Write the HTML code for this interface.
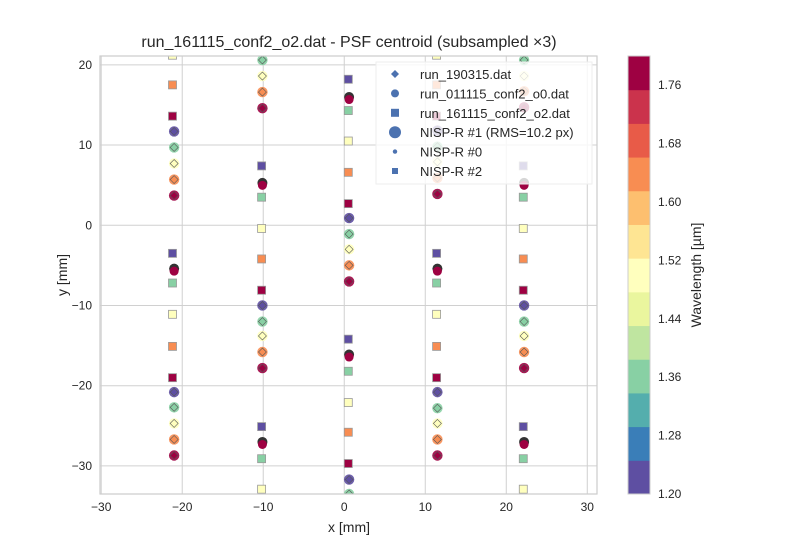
<!DOCTYPE html>
<html><head><meta charset="utf-8"><style>
html,body{margin:0;padding:0;background:#fff}
svg{display:block;font-family:"Liberation Sans","DejaVu Sans",sans-serif}
</style></head><body>
<svg id="chart" width="800" height="550" xmlns="http://www.w3.org/2000/svg">
<rect width="800" height="550" fill="#fff"/>
<g id="grid"></g>
<g id="marks"></g>
<rect x="100" y="56" width="497" height="438" fill="none" stroke="#cccccc" stroke-width="1.2"/>
<g id="ticks"></g>
<text x="349" y="47" text-anchor="middle" font-size="16" fill="#262626">run_161115_conf2_o2.dat - PSF centroid (subsampled ×3)</text>
<text x="349" y="532" text-anchor="middle" font-size="14" fill="#262626">x [mm]</text>
<text x="0" y="0" transform="translate(67,275) rotate(-90)" text-anchor="middle" font-size="14" fill="#262626">y [mm]</text>
<g id="legend"></g>
<g id="cbar"></g>
<text x="0" y="0" transform="translate(701,275) rotate(-90)" text-anchor="middle" font-size="14" fill="#262626">Wavelength [µm]</text>
</svg>
<script>
// ---- data ----
const xTicks = [-30,-20,-10,0,10,20,30];
const yTicks = [20,10,0,-10,-20,-30];
const cbarTicks = ["1.20","1.28","1.36","1.44","1.52","1.60","1.68","1.76"];
const cbarColors = ["#5e4fa2","#3a7eb8","#54aead","#88d0a4","#bfe5a0","#eaf69e","#ffffbe","#fee593","#fdbf6f","#f88d52","#e85b48","#cb334c","#9e0142"];
// NISP-R #1 circles (with run_190315 diamonds on top)
const circX = [-21,-21,-21,-21,-21,-21,-21,-21,-21,-21,
  -10.1,-10.1,-10.1,-10.1,-10.1,-10.1,-10.1,-10.1,-10.1,
  0.6,0.6,0.6,0.6,0.6,0.6,0.6,
  11.5,11.5,11.5,11.5,11.5,11.5,11.5,11.5,11.5,11.5,
  22.2,22.2,22.2,22.2,22.2,22.2,22.2,22.2,22.2];
const circY = [11.7,9.7,7.7,5.7,3.7,-20.8,-22.7,-24.7,-26.7,-28.7,
  20.6,18.6,16.6,14.6,-10.0,-12.0,-13.8,-15.8,-17.8,
  0.9,-1.1,-3.0,-5.0,-7.0,-31.7,-33.5,
  11.8,9.8,7.9,5.9,3.9,-20.8,-22.8,-24.7,-26.7,-28.7,
  20.6,18.6,16.7,14.7,-10.0,-12.0,-13.8,-15.8,-17.8];
const circW = [1.22,1.36,1.50,1.64,1.78,1.22,1.36,1.50,1.64,1.78,
  1.36,1.50,1.64,1.78,1.22,1.36,1.50,1.64,1.78,
  1.22,1.36,1.50,1.64,1.78,1.22,1.36,
  1.22,1.36,1.50,1.64,1.78,1.22,1.36,1.50,1.64,1.78,
  1.36,1.50,1.64,1.78,1.22,1.36,1.50,1.64,1.78];
// squares
const sqX = [-21.2,-21.2,-21.2,-21.2,-21.2,-21.2,-21.2,-21.2,
  -10.2,-10.2,-10.2,-10.2,-10.2,-10.2,-10.2,-10.2,
  0.5,0.5,0.5,0.5,0.5,0.5,0.5,0.5,0.5,0.5,
  11.4,11.4,11.4,11.4,11.4,11.4,11.4,11.4,
  22.1,22.1,22.1,22.1,22.1,22.1,22.1,22.1];
const sqY = [21.2,17.5,13.6,-3.5,-7.2,-11.1,-15.1,-19.0,
  7.4,3.5,-0.4,-4.2,-8.1,-25.1,-29.1,-32.9,
  18.2,14.3,10.5,6.6,2.7,-14.2,-18.2,-22.1,-25.8,-29.7,
  21.2,17.5,13.6,-3.5,-7.2,-11.1,-15.1,-19.0,
  7.4,3.5,-0.4,-4.2,-8.1,-25.1,-29.1,-32.9];
const sqW = [1.50,1.64,1.78,1.22,1.36,1.50,1.64,1.78,
  1.22,1.36,1.50,1.64,1.78,1.22,1.36,1.50,
  1.22,1.36,1.50,1.64,1.78,1.22,1.36,1.50,1.64,1.78,
  1.50,1.64,1.78,1.22,1.36,1.50,1.64,1.78,
  1.22,1.36,1.50,1.64,1.78,1.22,1.36,1.50];
// NISP-R #0 (dark) + red overlapping points
const dotX = [-21,-10.1,-10.1,0.6,0.6,11.5,22.2,22.2];
const dotY = [-5.6,5.1,-27.2,15.8,-16.3,-5.6,5.1,-27.2];
const legendLabels = ["run_190315.dat","run_011115_conf2_o0.dat","run_161115_conf2_o2.dat","NISP-R #1 (RMS=10.2 px)","NISP-R #0","NISP-R #2"];

// ---- scales ----
const X0=100,X1=597,Y0=56,Y1=494;
const xmin=-30.15,xmax=31.2,ymin=-33.5,ymax=21.1;
const sx = v => X0 + (v-xmin)/(xmax-xmin)*(X1-X0);
const sy = v => Y1 - (v-ymin)/(ymax-ymin)*(Y1-Y0);
const wmin=1.20,wmax=1.80;
const col = w => cbarColors[Math.max(0,Math.min(cbarColors.length-1,Math.floor((w-wmin)/(wmax-wmin)*cbarColors.length)))];
const NS="http://www.w3.org/2000/svg";
function mk(parent,tag,attrs){const e=document.createElementNS(NS,tag);for(const k in attrs)e.setAttribute(k,attrs[k]);parent.appendChild(e);return e;}

const grid=document.getElementById('grid'),ticks=document.getElementById('ticks'),marks=document.getElementById('marks');
xTicks.forEach(t=>{
  const l=mk(grid,'line',{x1:sx(t),x2:sx(t),y1:Y0,y2:Y1,stroke:'#d0d0d0','stroke-width':1});
  
  
  const tx=mk(ticks,'text',{x:sx(t),y:Y1+17,'text-anchor':'middle','font-size':12,fill:'#262626'});
  tx.textContent=(t<0?'\u2212'+Math.abs(t):t);
  
  
});
yTicks.forEach(t=>{
  const l=mk(grid,'line',{x1:X0,x2:X1,y1:sy(t),y2:sy(t),stroke:'#d0d0d0','stroke-width':1});
  
  
  const tx=mk(ticks,'text',{x:X0-8,y:sy(t)+4,'text-anchor':'end','font-size':12,fill:'#262626'});
  tx.textContent=(t<0?'\u2212'+Math.abs(t):t);
  
  
});

const defs=mk(document.getElementById('chart'),'defs',{});
const cp=mk(defs,'clipPath',{id:'pc'});mk(cp,'rect',{x:X0,y:Y0,width:X1-X0,height:Y1-Y0});
marks.setAttribute('clip-path','url(#pc)');

sqX.forEach((x,i)=>{
  const px=sx(x),py=sy(sqY[i]);
  const r=mk(marks,'rect',{x:px-4,y:py-4,width:8,height:8,fill:col(sqW[i]),stroke:'#999','stroke-width':0.8});
  
  
});
dotX.forEach((x,i)=>{
  const px=sx(x),py=sy(dotY[i]);
  const d=mk(marks,'circle',{cx:px,cy:py-1.5,r:5,fill:'#333'});
  
  
  const r=mk(marks,'circle',{cx:px,cy:py+1,r:4.5,fill:'#9e0142'});
  
  
});
circX.forEach((x,i)=>{
  const px=sx(x),py=sy(circY[i]),c=col(circW[i]);
  const ci=mk(marks,'circle',{cx:px,cy:py,r:5.2,fill:c,opacity:0.9});
  
  
  const dm=mk(marks,'path',{d:`M${px},${py-4}L${px+4},${py}L${px},${py+4}L${px-4},${py}Z`,fill:c,stroke:'#555','stroke-width':0.6});
  
  
});

const lg=document.getElementById('legend');
const box=mk(lg,'rect',{x:376,y:62,width:216,height:122,fill:'#fff','fill-opacity':0.8,stroke:'#eeeeee'});


const lc='#4c72b0';
legendLabels.forEach((lab,i)=>{
  const y=74+i*19.4, x=395;
  let m;
  if(i===0) m=mk(lg,'path',{d:`M${x},${y-4}L${x+4},${y}L${x},${y+4}L${x-4},${y}Z`,fill:lc});
  else if(i===1) m=mk(lg,'circle',{cx:x,cy:y,r:4,fill:lc});
  else if(i===2) m=mk(lg,'rect',{x:x-4,y:y-4,width:8,height:8,fill:lc});
  else if(i===3) m=mk(lg,'circle',{cx:x,cy:y,r:6,fill:lc});
  else if(i===4) m=mk(lg,'circle',{cx:x,cy:y,r:2.2,fill:lc});
  else m=mk(lg,'rect',{x:x-3,y:y-3,width:6,height:6,fill:lc});
  
  
  const t=mk(lg,'text',{x:420,y:y+5,'font-size':13,fill:'#262626'});
  t.textContent=lab;
  
  
});

const cb=document.getElementById('cbar');
const CX=628,CW=22,CT=56,CB=494,bh=(CB-CT)/cbarColors.length;
cbarColors.forEach((c,i)=>{
  const r=mk(cb,'rect',{x:CX,y:CB-(i+1)*bh,width:CW,height:bh+0.5,fill:c});
  
  
});
const fr=mk(cb,'rect',{x:CX,y:CT,width:CW,height:CB-CT,fill:'none',stroke:'#cccccc'});


cbarTicks.forEach(t=>{
  const v=parseFloat(t);
  const y=CB-(v-wmin)/(wmax-wmin)*(CB-CT);
  const tx=mk(cb,'text',{x:CX+CW+8,y:y+4,'font-size':12,fill:'#262626'});
  tx.textContent=t;
  
  
});
</script>
</body></html>
